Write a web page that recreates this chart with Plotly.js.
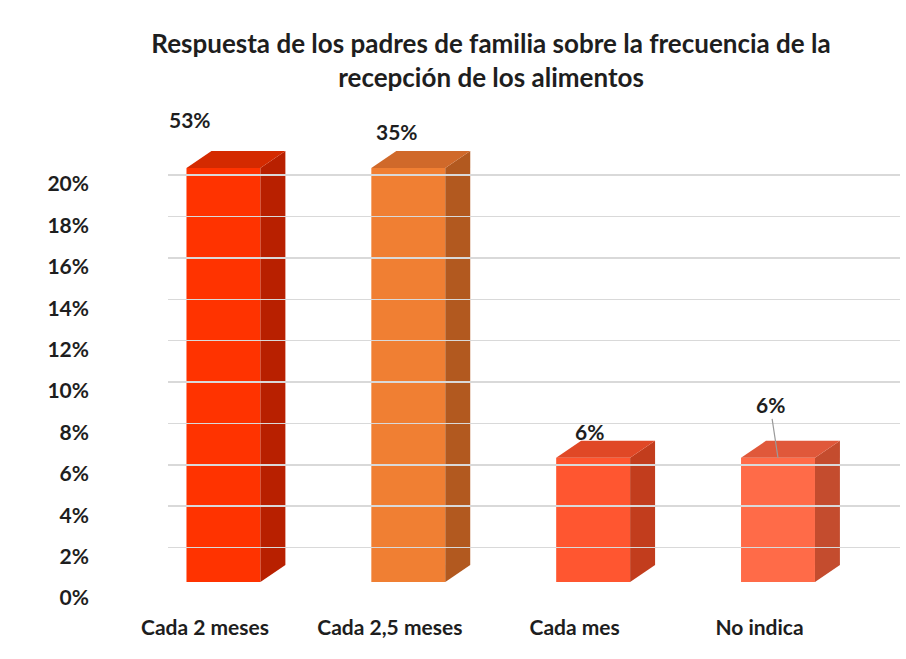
<!DOCTYPE html>
<html>
<head>
<meta charset="utf-8">
<script src="https://cdn.plot.ly/plotly-3.0.1.min.js"></script>
<style>html,body{margin:0;padding:0;background:#fff;}#chart{width:906px;height:659px;}</style>
</head>
<body>
<div id="chart"></div>
<script>
// ---- data ----
const categories = ["Cada 2 meses", "Cada 2,5 meses", "Cada mes", "No indica"];
const values = [0.53, 0.35, 0.06, 0.06];
const valueLabels = ["53%", "35%", "6%", "6%"];
const yTickVals = [0, 0.02, 0.04, 0.06, 0.08, 0.10, 0.12, 0.14, 0.16, 0.18, 0.20];
const yTickText = ["0%", "2%", "4%", "6%", "8%", "10%", "12%", "14%", "16%", "18%", "20%"];
const axisMax = 0.20;

// ---- styles ----
const frontColors = ["#FF3300", "#F07F33", "#FF5630", "#FF6B48"];
const topColors   = ["#D42A00", "#D0692A", "#E04826", "#E0583A"];
const sideColors  = ["#B82000", "#B2591F", "#C23D1D", "#C44C2E"];
const barWidth = 0.4, barOffset = -0.1;
const depthX = 0.135, depthY = 0.0082;
const labelShift = [[-33, 49], [-11, 37], [-4, 26], [-8, 53]];
const FONT = "Lato, 'Open Sans', 'DejaVu Sans', sans-serif";
const TEXT = "#1e1e1e";

const xs = categories.map((c, i) => i);
const shown = values.map(v => Math.min(v, axisMax));

const traces = [{
  type: "bar", x: xs, y: shown, width: barWidth, offset: barOffset,
  marker: {color: frontColors, line: {width: 0}}, hoverinfo: "skip", showlegend: false
}];

xs.forEach((x, i) => {
  const x0 = x + barOffset, x1 = x0 + barWidth, h = shown[i];
  // side face
  traces.push({
    type: "scatter", mode: "lines", fill: "toself", fillcolor: sideColors[i],
    line: {width: 0, color: sideColors[i]}, hoverinfo: "skip", showlegend: false,
    x: [x1, x1 + depthX, x1 + depthX, x1, x1],
    y: [0, depthY, h + depthY, h, 0]
  });
  // top face
  traces.push({
    type: "scatter", mode: "lines", fill: "toself", fillcolor: topColors[i],
    line: {width: 0, color: topColors[i]}, hoverinfo: "skip", showlegend: false,
    x: [x0, x1, x1 + depthX, x0 + depthX, x0],
    y: [h, h, h + depthY, h + depthY, h]
  });
});

// invisible trace to hold the grid/label axis
traces.push({type: "scatter", mode: "markers", x: [0], y: [0], yaxis: "y2",
  marker: {opacity: 0}, hoverinfo: "skip", showlegend: false});

const annotations = xs.map((x, i) => {
  const a = {
    x: x + barOffset + barWidth / 2, y: shown[i], xref: "x", yref: "y",
    text: valueLabels[i], font: {family: FONT, size: 21, color: TEXT, weight: "bold"},
    showarrow: false, xshift: labelShift[i][0], yshift: labelShift[i][1]
  };
  if (i === 3) {
    a.showarrow = true; a.arrowhead = 0; a.arrowwidth = 1.2; a.arrowcolor = "#9a9a9a";
    a.ax = labelShift[i][0]; a.ay = -labelShift[i][1]; a.xshift = 0; a.yshift = 0;
    a.standoff = 0;
  }
  return a;
});

const plotH = 659 - 106 - 70;
const layout = {
  width: 906, height: 659,
  margin: {l: 168, r: 6, t: 106, b: 70},
  paper_bgcolor: "#fff", plot_bgcolor: "rgba(0,0,0,0)",
  title: {
    text: "Respuesta de los padres de familia sobre la frecuencia de la<br>recepción de los alimentos",
    font: {family: FONT, size: 26, color: TEXT, weight: "bold"},
    x: 491 / 906, xref: "container", xanchor: "center",
    y: 1 - 53 / 659, yref: "container", yanchor: "top"
  },
  xaxis: {
    range: [-0.2, 3.76], tickvals: xs, ticktext: categories,
    showgrid: false, zeroline: false, showline: false, ticks: "",
    ticklabelstandoff: 31,
    tickfont: {family: FONT, size: 21, color: TEXT, weight: "bold"}
  },
  yaxis: {domain: [7 / plotH, 1], range: [0, 0.23], visible: false, fixedrange: true},
  yaxis2: {
    domain: [0, 1 - 7 / plotH], range: [0, 0.23], anchor: "x", side: "left",
    tickvals: yTickVals, ticktext: yTickText, showgrid: true, gridcolor: "#d9d9d9", gridwidth: 1.5,
    zeroline: false, showline: false, ticks: "",
    ticklabelstandoff: 78, ticklabelshift: 9,
    tickfont: {family: FONT, size: 21, color: TEXT, weight: "bold"}
  },
  annotations: annotations,
  showlegend: false
};

Plotly.newPlot("chart", traces, layout, {displayModeBar: false, staticPlot: true});
</script>
</body>
</html>
